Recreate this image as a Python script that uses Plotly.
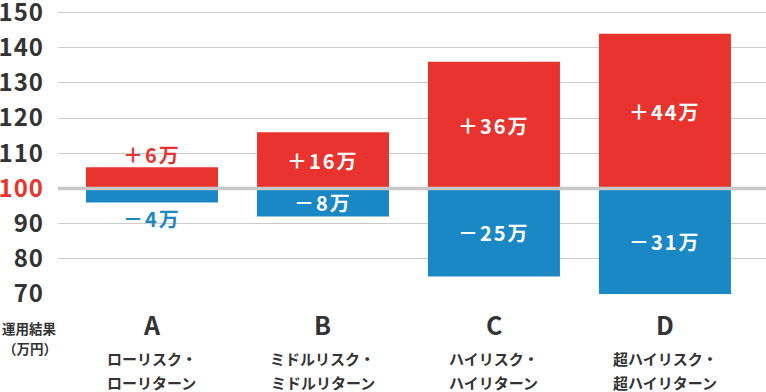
import plotly.graph_objects as go

# ---- data ----
categories = ["A", "B", "C", "D"]
subtitle_line1 = ["ローリスク・", "ミドルリスク・", "ハイリスク・", "超ハイリスク・"]
subtitle_line2 = ["ローリターン", "ミドルリターン", "ハイリターン", "超ハイリターン"]
base_value = 100
gains = [6, 16, 36, 44]
losses = [-4, -8, -25, -31]
y_ticks = [70, 80, 90, 100, 110, 120, 130, 140, 150]

RED = "#E8332F"
BLUE = "#1A88C4"
GRID = "#CCCCCC"
TEXT = "#333333"
FONT = "Noto Sans CJK JP"

Y_MIN, Y_MAX = 70, 151
W, H = 766, 392
M_L, M_R, M_T, M_B = 58, 0, 9, 98
plot_h = H - M_T - M_B
plot_w = W - M_L - M_R
px_per_unit = plot_h / (Y_MAX - Y_MIN)

fig = go.Figure()
fig.add_trace(go.Bar(x=categories, y=gains, base=[base_value] * 4,
                     marker=dict(color=RED, line=dict(width=0)),
                     width=0.772, hoverinfo="skip"))
fig.add_trace(go.Bar(x=categories, y=losses, base=[base_value] * 4,
                     marker=dict(color=BLUE, line=dict(width=0)),
                     width=0.772, hoverinfo="skip"))

# thick baseline at 100
fig.add_shape(type="line", xref="paper", yref="y", x0=0, x1=1,
              y0=base_value, y1=base_value,
              line=dict(color="#C8C8C8", width=3.5), layer="above")

def fmt(v):
    s = ("＋" if v > 0 else "－") + str(abs(v)) + "万"
    return f"<span style='letter-spacing:2px'>{s}</span>"

def py(pixel_y):
    # pixel y from top of figure -> paper coordinate
    return (H - M_B - pixel_y) / plot_h

anns = []
for i, c in enumerate(categories):
    for v, col in ((gains[i], RED), (losses[i], BLUE)):
        end = base_value + v
        h_px = abs(v) * px_per_unit
        if h_px < 25:
            shift = 13 if v > 0 else -16
            anns.append(dict(x=c, y=end, xref="x", yref="y", text=fmt(v),
                             showarrow=False, yshift=shift,
                             font=dict(family=FONT, size=20, color=col, weight="bold")))
        else:
            lo = max(min(base_value, end), Y_MIN)
            hi = min(max(base_value, end), Y_MAX)
            anns.append(dict(x=c, y=(lo + hi) / 2, xref="x", yref="y", text=fmt(v),
                             showarrow=False,
                             font=dict(family=FONT, size=20, color="white", weight="bold")))
    # category labels
    anns.append(dict(x=c, y=py(324), xref="x", yref="paper", text=c, showarrow=False,
                     yanchor="middle",
                     font=dict(family=FONT, size=25, color=TEXT, weight="bold")))
    anns.append(dict(x=c, y=py(358), xref="x", yref="paper", text=subtitle_line1[i],
                     showarrow=False, yanchor="middle",
                     font=dict(family=FONT, size=15, color=TEXT, weight="bold")))
    anns.append(dict(x=c, y=py(382), xref="x", yref="paper", text=subtitle_line2[i],
                     showarrow=False, yanchor="middle",
                     font=dict(family=FONT, size=15, color=TEXT, weight="bold")))

anns.append(dict(x=(30 - M_L) / plot_w, y=py(328), xref="paper", yref="paper",
                 text="運用結果", showarrow=False, yanchor="middle", xanchor="center",
                 font=dict(family=FONT, size=13.5, color=TEXT, weight="bold")))
anns.append(dict(x=(30 - M_L) / plot_w, y=py(348), xref="paper", yref="paper",
                 text="（万円）", showarrow=False, yanchor="middle", xanchor="center",
                 font=dict(family=FONT, size=13.5, color=TEXT, weight="bold")))

tick_text = [
    (f"<span style='letter-spacing:1px;color:{RED}'>{t}</span>" if t == base_value
     else f"<span style='letter-spacing:1px'>{t}</span>")
    for t in y_ticks
]

fig.update_layout(
    width=W, height=H,
    margin=dict(l=M_L, r=M_R, t=M_T, b=M_B, autoexpand=False),
    paper_bgcolor="white", plot_bgcolor="white",
    barmode="overlay", showlegend=False,
    annotations=anns,
    xaxis=dict(type="category", range=[-0.5497, 3.591], showticklabels=False,
               showgrid=False, zeroline=False, showline=False, fixedrange=True,
               automargin=False),
    yaxis=dict(range=[Y_MIN, Y_MAX], tickvals=y_ticks, ticktext=tick_text,
               showgrid=True, gridcolor=GRID, gridwidth=1, zeroline=False,
               showline=False, ticklabelstandoff=13, fixedrange=True,
               ticklabeloverflow="allow", automargin=False,
               tickfont=dict(family=FONT, size=24, color=TEXT, weight="bold")),
)

fig.write_html("out.html", config={"displayModeBar": False},
               post_script="document.body.style.margin='0';document.body.style.overflow='hidden';")
